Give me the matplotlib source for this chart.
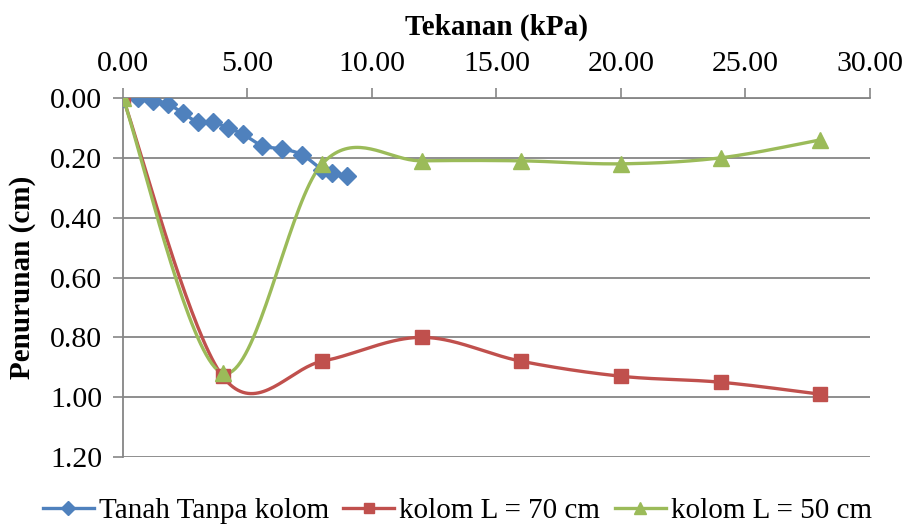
import numpy as np
import matplotlib
matplotlib.use("Agg")
import matplotlib.pyplot as plt

# data
tanpa_x = [0, 0.6, 1.2, 1.8, 2.4, 3.0, 3.6, 4.2, 4.8, 5.6, 6.4, 7.2, 8.0, 8.4, 9.0]
tanpa_y = [0, 0, 0.01, 0.02, 0.05, 0.08, 0.08, 0.10, 0.12, 0.16, 0.17, 0.19, 0.24, 0.25, 0.26]

kolom_x = [0, 4, 8, 12, 16, 20, 24, 28]
l70_y = [0, 0.93, 0.88, 0.80, 0.88, 0.93, 0.95, 0.99]
l50_y = [0, 0.92, 0.22, 0.21, 0.21, 0.22, 0.20, 0.14]

x_ticks = [0, 5, 10, 15, 20, 25, 30]
y_ticks = [0, 0.2, 0.4, 0.6, 0.8, 1.0, 1.2]


def smooth(x, y, n=40):
    # excel-like smoothed line (catmull-rom bezier)
    p = np.column_stack([x, y]).astype(float)
    out = []
    for i in range(len(p) - 1):
        p0 = p[i - 1] if i > 0 else p[i]
        p1, p2 = p[i], p[i + 1]
        p3 = p[i + 2] if i + 2 < len(p) else p[i + 1]
        c1 = p1 + (p2 - p0) / 6
        c2 = p2 - (p3 - p1) / 6
        t = np.linspace(0, 1, n)[:, None]
        seg = ((1 - t) ** 3) * p1 + 3 * ((1 - t) ** 2) * t * c1 + 3 * (1 - t) * t ** 2 * c2 + t ** 3 * p2
        out.append(seg if i == 0 else seg[1:])
    seg = np.vstack(out)
    return seg[:, 0], seg[:, 1]


plt.rcParams['font.family'] = ['Liberation Serif', 'DejaVu Serif']
fs = 21.5

fig = plt.figure(figsize=(9.07, 5.25), dpi=100)
ax = fig.add_axes([0.1356, 0.1295, 0.8236, 0.6838])

series = [
    (tanpa_x, tanpa_y, '#4F81BD', 'D', 9, 'Tanah Tanpa kolom'),
    (kolom_x, l70_y, '#C0504D', 's', 10, 'kolom L = 70 cm'),
    (kolom_x, l50_y, '#9BBB59', '^', 11, 'kolom L = 50 cm'),
]
handles = []
for xs, ys, c, m, ms, lab in series:
    sx, sy = smooth(xs, ys)
    ax.plot(sx, sy, color=c, lw=2.4, zorder=3)
    ax.plot(xs, ys, ls='none', marker=m, ms=ms, color=c, zorder=4)
    h, = ax.plot([], [], color=c, lw=2.4, marker=m, ms=ms * 0.75, label=lab)
    handles.append(h)

ax.set_xlim(0, 30)
ax.set_ylim(1.2, 0)
ax.set_xticks(x_ticks)
ax.set_yticks(y_ticks)
ax.set_xticklabels([f'{v:.2f}' for v in x_ticks])
ax.set_yticklabels([f'{v:.2f}' for v in y_ticks])
ax.xaxis.tick_top()
ax.xaxis.set_label_position('top')
ax.tick_params(axis='both', labelsize=fs, length=7, width=1.2, color='#868686', direction='out')
ax.tick_params(axis='x', pad=8)
ax.tick_params(axis='y', pad=8)
ax.grid(axis='y', color='#868686', lw=1.3)
ax.set_axisbelow(True)
for s in ['right', 'bottom']:
    ax.spines[s].set_visible(False)
for s in ['top', 'left']:
    ax.spines[s].set_color('#868686')
    ax.spines[s].set_linewidth(1.3)

ax.set_xlabel('Tekanan (kPa)', fontsize=21, fontweight='bold', labelpad=12)
ax.set_ylabel('Penurunan (cm)', fontsize=21, fontweight='bold', va='center')
ax.yaxis.set_label_coords(-0.135, 0.5)

fig.legend(handles=handles, loc='center', bbox_to_anchor=(0.504, 0.027), ncol=3,
           frameon=False, fontsize=21, handlelength=1.75, handletextpad=0.17,
           columnspacing=0.5, borderaxespad=0)

fig.savefig('out.png', dpi=100)
